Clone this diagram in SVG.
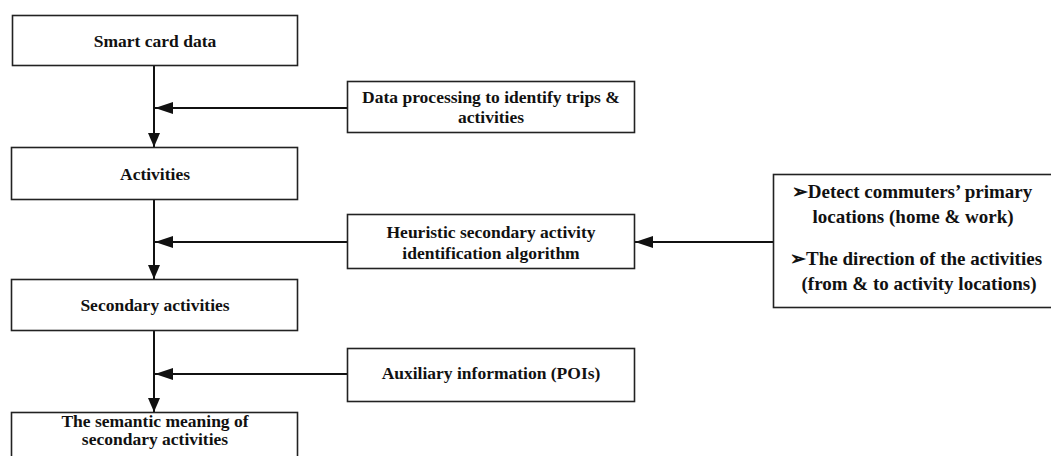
<svg xmlns="http://www.w3.org/2000/svg" width="1051" height="456" viewBox="0 0 1051 456">
<style>
.box{fill:#fff;stroke:#222;stroke-width:1.6}
.t{font-family:"Liberation Serif","Times New Roman",Times,serif;font-weight:bold;font-size:17.5px;fill:#111;text-anchor:middle}
.r{font-size:19px}
.ln{stroke:#111;stroke-width:2;fill:none}
</style>
<defs>
<marker id="ah" viewBox="0 0 18 12" refX="18" refY="6" markerWidth="18" markerHeight="12" markerUnits="userSpaceOnUse" orient="auto">
<path d="M0,0 L18,6 L0,12 Z" fill="#111"/>
</marker>
<marker id="ad" viewBox="0 0 14 12" refX="14" refY="6" markerWidth="14" markerHeight="12" markerUnits="userSpaceOnUse" orient="auto">
<path d="M0,0 L14,6 L0,12 Z" fill="#111"/>
</marker>
</defs>
<g id="connectors">
<line class="ln" x1="154" y1="65" x2="154" y2="147" marker-end="url(#ad)"/>
<line class="ln" x1="347" y1="108" x2="155" y2="108" marker-end="url(#ah)"/>
<line class="ln" x1="154" y1="199" x2="154" y2="279" marker-end="url(#ad)"/>
<line class="ln" x1="347" y1="242" x2="155" y2="242" marker-end="url(#ah)"/>
<line class="ln" x1="773" y1="242" x2="635" y2="242" marker-end="url(#ah)"/>
<line class="ln" x1="154" y1="330" x2="154" y2="412" marker-end="url(#ad)"/>
<line class="ln" x1="347" y1="374" x2="155" y2="374" marker-end="url(#ah)"/>
</g>
<g id="smart-card">
<rect class="box" x="12.5" y="15.5" width="285" height="50"/>
<text class="t" x="155" y="47">Smart card data</text>
</g>
<g id="data-processing">
<rect class="box" x="347.5" y="81.5" width="287" height="51"/>
<text class="t" x="491" y="102.5">Data processing to identify trips &amp;</text>
<text class="t" x="491" y="123">activities</text>
</g>
<g id="activities">
<rect class="box" x="11.5" y="147.5" width="286" height="52"/>
<text class="t" x="155" y="180">Activities</text>
</g>
<g id="heuristic">
<rect class="box" x="347.5" y="214.5" width="287" height="54"/>
<text class="t" x="491" y="238">Heuristic secondary activity</text>
<text class="t" x="491" y="259">identification algorithm</text>
</g>
<g id="inputs">
<rect class="box" x="773.5" y="174.5" width="280" height="133"/>
<text class="t r" x="912" y="198">➢Detect commuters’ primary</text>
<text class="t r" x="913" y="223">locations (home &amp; work)</text>
<text class="t r" x="916" y="265">➢The direction of the activities</text>
<text class="t r" x="919" y="290">(from &amp; to activity locations)</text>
</g>
<g id="secondary">
<rect class="box" x="11.5" y="279.5" width="286" height="51"/>
<text class="t" x="155" y="311">Secondary activities</text>
</g>
<g id="auxiliary">
<rect class="box" x="347.5" y="348.5" width="287" height="53"/>
<text class="t" x="491" y="379">Auxiliary information (POIs)</text>
</g>
<g id="semantic">
<rect class="box" x="11.5" y="412.5" width="286" height="60"/>
<text class="t" x="155" y="427">The semantic meaning of</text>
<text class="t" x="155" y="445">secondary activities</text>
</g>
</svg>
